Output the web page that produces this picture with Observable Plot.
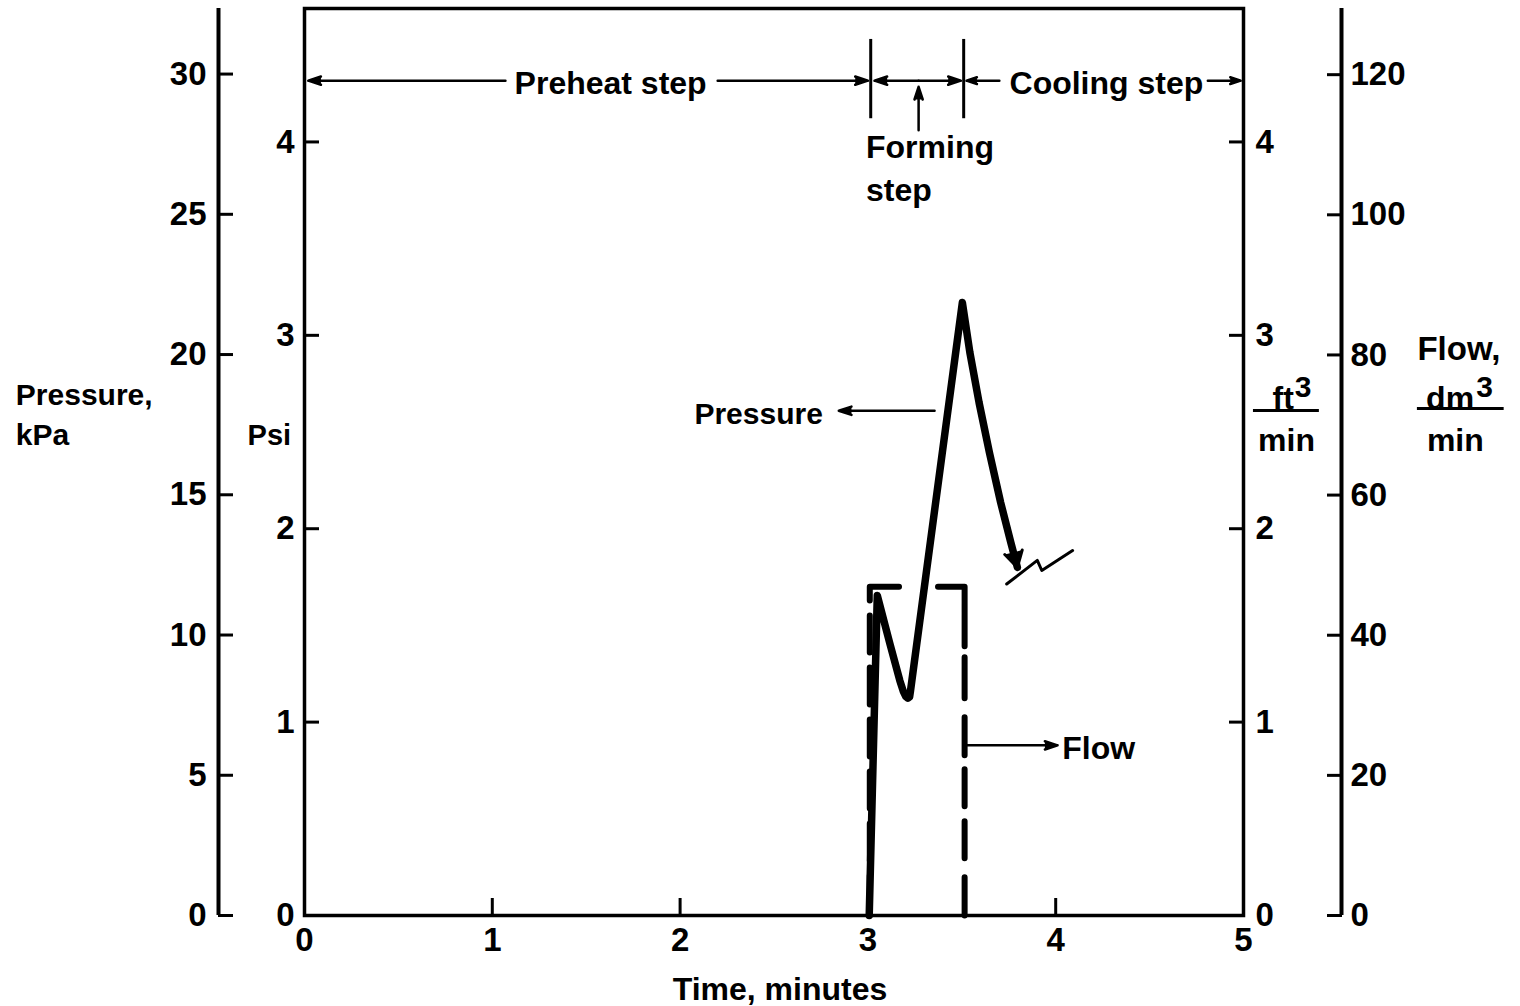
<!DOCTYPE html>
<html>
<head>
<meta charset="utf-8">
<script src="https://cdn.jsdelivr.net/npm/d3@7"></script>
<script src="https://cdn.jsdelivr.net/npm/@observablehq/plot@0.6"></script>
<style>
  html, body { margin: 0; padding: 0; background: #fff; }
  #chart svg { display: block; }
</style>
</head>
<body>
<div id="chart"></div>
<script>
// ---- Axis ticks -------------------------------------------------------
const timeTicks = [0, 1, 2, 3, 4, 5];            // minutes
const psiTicks  = [0, 1, 2, 3, 4];               // psi
const kPaTicks  = [0, 5, 10, 15, 20, 25, 30];    // kPa
const ft3Ticks  = [0, 1, 2, 3, 4];               // ft³/min
const dm3Ticks  = [0, 20, 40, 60, 80, 100, 120]; // dm³/min

// Secondary units are placed on the shared psi / ft³-per-minute scale
const KPA_PER_PSI = 6.895;
const DM3_PER_FT3 = 27.6;

// ---- Pressure trace (psi) over the cycle -------------------------------
const pressureTime = [3.007, 3.050, 3.117, 3.170, 3.189, 3.202, 3.213, 3.222, 3.227,
                      3.503, 3.543, 3.592, 3.647, 3.707, 3.761, 3.796];
const pressurePsi  = [0.000, 1.655, 1.406, 1.215, 1.158, 1.132, 1.124, 1.130, 1.163,
                      3.170, 2.911, 2.652, 2.394, 2.135, 1.929, 1.800];

// ---- Air flow (ft³/min) during forming ---------------------------------
const flowTime = [3.01, 3.01, 3.515, 3.515];
const flowRate = [0, 1.7, 1.7, 0];

// ---- Forming step boundaries (minutes) ----------------------------------
const stepBounds = [3.015, 3.51];

// ---- Chart layout ------------------------------------------------------
const Y_MAX = 4.69;
const FONT = "'Liberation Sans', Arial, Helvetica, sans-serif";
const plain = d => String(d);
// long-dash pattern for the flow trace, walked from its lower-left corner
const FLOW_DASH = "40,15,37,15,37,15,37,15,37,15,37,15,43,39,86,11,41,19,38,14,37,15,37,19,46,40";

const pressure = pressureTime.map((t, i) => ({t, psi: pressurePsi[i]}));
const flow = flowTime.map((t, i) => ({t, rate: flowRate[i]}));

// Step banner along the top, and call-out arrows for the traces
const ROW = 4.317;
const guideArrows = [
  {x1: 1.07,  y1: ROW,  x2: 0.02,  y2: ROW},   // ← Preheat
  {x1: 2.20,  y1: ROW,  x2: 3.00,  y2: ROW},   // Preheat →
  {x1: 3.27,  y1: ROW,  x2: 3.035, y2: ROW},   // ← Forming
  {x1: 3.27,  y1: ROW,  x2: 3.495, y2: ROW},   // Forming →
  {x1: 3.70,  y1: ROW,  x2: 3.525, y2: ROW},   // ← Cooling
  {x1: 4.81,  y1: ROW,  x2: 4.985, y2: ROW},   // Cooling →
  {x1: 3.27,  y1: 4.06, x2: 3.27,  y2: 4.285}, // Forming label pointer
  {x1: 3.355, y1: 2.61, x2: 2.845, y2: 2.61},  // Pressure call-out
  {x1: 3.52,  y1: 0.88, x2: 4.01,  y2: 0.88}   // Flow call-out
];

// Break glyph at the end of the pressure trace
const breakGlyph = [
  {t: 3.739, v: 1.714}, {t: 3.902, v: 1.836}, {t: 3.926, v: 1.784}, {t: 4.090, v: 1.887}
];

const midLabels = [
  {text: "Preheat step", t: 1.63, v: ROW, size: 32},
  {text: "Cooling step", t: 4.27, v: ROW, size: 32},
  {text: "Time, minutes", t: 2.532, v: -0.365, size: 32},
  {text: "min", t: 5.229, v: 2.472, size: 32},
  {text: "min", t: 6.128, v: 2.472, size: 32}
];
const startLabels = [
  {text: "Forming\nstep", t: 2.99, v: 3.878, size: 32},
  {text: "Flow", t: 4.035, v: 0.88, size: 32},
  {text: "Pressure,\nkPa", t: -1.537, v: 2.604, size: 30},
  {text: "Psi", t: -0.303, v: 2.497, size: 29},
  {text: "Flow,", t: 5.926, v: 2.947, size: 33},
  {text: "3", t: 5.273, v: 2.75, size: 30},
  {text: "3", t: 6.240, v: 2.75, size: 30}
];
const endLabels = [
  {text: "Pressure", t: 2.76, v: 2.61, size: 30},
  {text: "ft", t: 5.268, v: 2.69, size: 32},
  {text: "dm", t: 6.228, v: 2.69, size: 32}
];
const fractionBars = [
  {v: 2.611, x1: 5.053, x2: 5.404},
  {v: 2.622, x1: 5.926, x2: 6.388}
];

const textMarks = (rows, anchor) =>
  [...new Set(rows.map(d => d.size))].map(size =>
    Plot.text(rows.filter(d => d.size === size), {
      x: "t", y: "v", text: "text", textAnchor: anchor,
      fontSize: size, lineHeight: 1.35, fill: "black"
    })
  );

const kPaPos = kPaTicks.map(k => k / KPA_PER_PSI);
const dm3Pos = dm3Ticks.map(d => d / DM3_PER_FT3);

const chart = Plot.plot({
  width: 1520,
  height: 1006,
  marginLeft: 304,
  marginRight: 277,
  marginTop: 8,
  marginBottom: 91,
  style: {fontFamily: FONT, fontWeight: "bold", background: "white", color: "black"},
  x: {domain: [0, 5], axis: null},
  y: {domain: [0, Y_MAX], axis: null},
  marks: [
    // kPa axis (outer left)
    Plot.ruleX([0], {dx: -86, y1: 0, y2: Y_MAX, strokeWidth: 4}),
    Plot.axisY(kPaPos, {anchor: "left", dx: -86, tickSize: -15, strokeWidth: 3, fill: "none", label: null}),
    Plot.axisY(kPaPos, {anchor: "left", dx: -86, tickSize: 0, tickPadding: 12, fontSize: 33,
      tickFormat: v => Math.round(v * KPA_PER_PSI), label: null}),

    // psi axis (frame left)
    Plot.axisY(psiTicks, {anchor: "left", tickSize: -15, strokeWidth: 3, fill: "none", label: null}),
    Plot.axisY(psiTicks, {anchor: "left", tickSize: 0, tickPadding: 10, fontSize: 33,
      tickFormat: plain, label: null}),

    // ft³/min axis (frame right)
    Plot.axisY(ft3Ticks, {anchor: "right", tickSize: -15, strokeWidth: 3, fill: "none", label: null}),
    Plot.axisY(ft3Ticks, {anchor: "right", tickSize: 0, tickPadding: 12, fontSize: 33,
      tickFormat: plain, label: null}),

    // dm³/min axis (outer right)
    Plot.ruleX([5], {dx: 98, y1: 0, y2: Y_MAX, strokeWidth: 4}),
    Plot.axisY(dm3Pos, {anchor: "right", dx: 98, tickSize: -15, strokeWidth: 3, fill: "none", label: null}),
    Plot.axisY(dm3Pos, {anchor: "right", dx: 98, tickSize: 0, tickPadding: 9, fontSize: 33,
      tickFormat: v => Math.round(v * DM3_PER_FT3), label: null}),

    // time axis
    Plot.axisX(timeTicks, {anchor: "bottom", tickSize: -17, strokeWidth: 3, fill: "none", label: null}),
    Plot.axisX(timeTicks, {anchor: "bottom", tickSize: 0, tickPadding: 12, fontSize: 33,
      tickFormat: plain, label: null}),

    Plot.frame({strokeWidth: 3.5, stroke: "black"}),

    // step boundaries
    Plot.ruleX(stepBounds, {y1: 4.12, y2: 4.53, strokeWidth: 3}),

    // flow (dashed) and pressure traces
    Plot.line(flow, {x: "t", y: "rate", strokeWidth: 6, strokeDasharray: FLOW_DASH,
      strokeLinecap: "round", stroke: "black"}),
    Plot.line(pressure, {x: "t", y: "psi", strokeWidth: 7.5, strokeLinejoin: "round",
      strokeLinecap: "round", stroke: "black"}),
    Plot.arrow([{a: pressure[pressure.length - 3], b: pressure[pressure.length - 1]}], {
      x1: d => d.a.t, y1: d => d.a.psi, x2: d => d.b.t, y2: d => d.b.psi,
      strokeWidth: 3, headLength: 9, headAngle: 60, stroke: "black", fill: "black"
    }),
    Plot.line(breakGlyph, {x: "t", y: "v", strokeWidth: 3, stroke: "black"}),

    // banner and call-out arrows
    Plot.arrow(guideArrows, {x1: "x1", y1: "y1", x2: "x2", y2: "y2", strokeWidth: 2.5,
      headLength: 8, headAngle: 36, stroke: "black", fill: "black"}),

    // fraction bars for the flow units
    Plot.ruleY(fractionBars, {y: "v", x1: "x1", x2: "x2", strokeWidth: 3}),

    ...textMarks(midLabels, "middle"),
    ...textMarks(startLabels, "start"),
    ...textMarks(endLabels, "end")
  ]
});

document.getElementById("chart").appendChild(chart);
</script>
</body>
</html>
